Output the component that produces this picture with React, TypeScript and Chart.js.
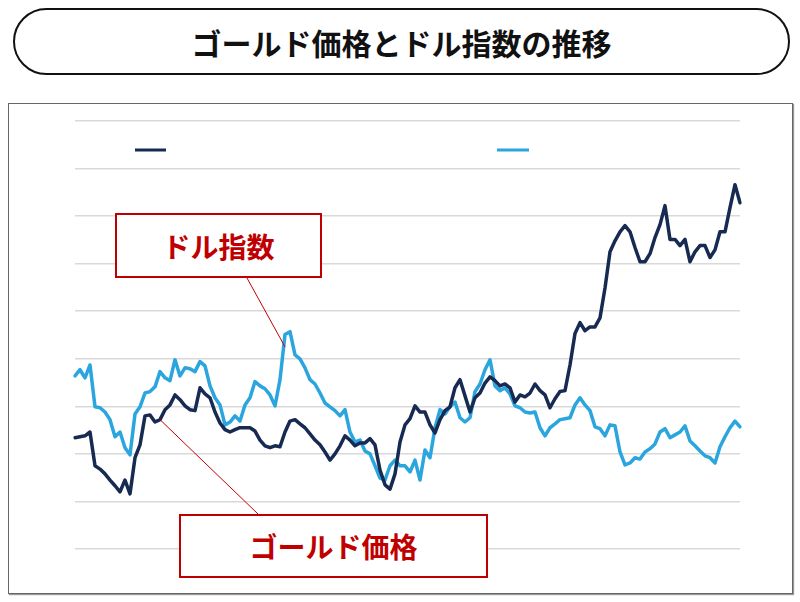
import React, { useEffect, useRef } from "react";
import { Chart, registerables } from "chart.js";

Chart.register(...registerables);

// Weekly observations (index units; each gridline = 10)
const goldPrice: number[] = [
  23.4, 23.6, 23.8, 24.6, 17.5, 16.8, 15.8, 14.5, 13.3, 12.0,
  14.5, 11.6, 19.2, 21.9, 28.0, 28.2, 26.7, 27.2, 29.3, 30.3,
  32.4, 31.4, 30.1, 29.3, 29.1, 33.9, 32.6, 31.8, 28.8, 26.5,
  25.1, 24.6, 25.1, 25.5, 25.5, 25.5, 24.8, 22.9, 21.7, 21.3,
  21.7, 21.5, 24.6, 26.9, 27.2, 26.3, 25.5, 24.2, 22.9, 21.9,
  20.4, 18.7, 20.0, 21.7, 23.8, 22.9, 21.7, 22.3, 22.3, 23.2,
  21.9, 16.6, 13.5, 12.6, 15.8, 22.5, 26.1, 27.4, 30.1, 28.8,
  28.8, 26.1, 24.4, 27.2, 29.1, 29.9, 33.9, 35.6, 32.2, 28.8,
  31.8, 32.8, 34.9, 36.2, 35.4, 34.3, 34.7, 33.9, 30.9, 32.4,
  32.0, 32.8, 34.7, 33.3, 32.4, 29.7, 31.6, 33.1, 33.3, 38.7,
  45.3, 47.6, 45.9, 46.7, 46.7, 48.6, 54.9, 62.5, 64.8, 66.7,
  68.0, 66.7, 63.4, 60.4, 60.4, 62.1, 65.5, 68.2, 72.2, 65.1,
  65.1, 63.8, 65.1, 60.4, 62.5, 63.8, 63.8, 61.3, 62.9, 66.7,
  66.7, 71.8, 76.6, 72.8,
];

const dollarIndex: number[] = [
  36.4, 37.7, 36.0, 38.7, 29.9, 29.7, 28.8, 27.2, 23.6, 24.6,
  21.3, 19.8, 28.4, 29.9, 32.8, 33.1, 34.1, 37.3, 36.0, 35.4,
  39.8, 36.4, 38.1, 37.9, 37.3, 39.4, 38.5, 34.3, 31.8, 30.3,
  26.1, 26.7, 28.0, 26.9, 30.3, 31.8, 35.2, 34.3, 33.7, 32.4,
  30.1, 35.6, 45.1, 45.7, 40.8, 40.0, 38.1, 35.6, 34.7, 32.8,
  30.7, 29.9, 29.1, 28.0, 29.3, 24.6, 22.5, 22.9, 20.6, 20.0,
  17.5, 14.9, 14.5, 17.5, 18.7, 17.5, 17.5, 16.2, 18.7, 14.5,
  20.8, 19.2, 25.5, 29.3, 28.4, 29.9, 30.9, 27.6, 26.7, 27.6,
  33.1, 34.7, 37.7, 39.8, 34.3, 33.3, 33.9, 32.6, 30.1, 29.7,
  28.8, 28.6, 28.8, 25.5, 23.8, 25.5, 26.3, 27.2, 27.4, 27.6,
  30.3, 31.8, 30.3, 29.1, 25.7, 25.3, 23.8, 26.1, 25.9, 20.4,
  17.7, 18.1, 19.2, 18.9, 20.4, 21.1, 22.1, 24.6, 25.3, 23.4,
  24.0, 24.6, 25.9, 22.7, 21.7, 20.6, 19.6, 19.2, 18.1, 21.5,
  23.6, 25.5, 26.9, 25.7,
];

const weekLabels: string[] = goldPrice.map((_, i) => `W${i + 1}`);

const yMin = 0;
const yMax = 90;
const yStep = 10;

// Annotation anchor points (week index, value)
const dollarCallout = { index: 42, value: 42.5 };
const goldCallout = { index: 17, value: 27.2 };

const titleText = "ゴールド価格とドル指数の推移";
const dollarLabel = "ドル指数";
const goldLabel = "ゴールド価格";

const GOLD_COLOR = "#172a52";
const DOLLAR_COLOR = "#2aa5de";
const RED = "#c00000";
const JP_FONT = '"Noto Sans CJK JP", "Noto Sans", sans-serif';

export default function App() {
  const canvasRef = useRef<HTMLCanvasElement | null>(null);

  useEffect(() => {
    if (!canvasRef.current) return;

    const decor = {
      id: "decor",
      afterDatasetsDraw(chart: any) {
        const ctx = chart.ctx as CanvasRenderingContext2D;
        const xs = chart.scales.x;
        const ys = chart.scales.y;
        ctx.save();
        // legend swatches
        ctx.lineWidth = 3;
        ctx.lineCap = "butt";
        ctx.strokeStyle = GOLD_COLOR;
        ctx.beginPath();
        ctx.moveTo(135, 150);
        ctx.lineTo(166, 150);
        ctx.stroke();
        ctx.strokeStyle = DOLLAR_COLOR;
        ctx.beginPath();
        ctx.moveTo(497, 150);
        ctx.lineTo(529, 150);
        ctx.stroke();
        // callout connectors
        ctx.strokeStyle = RED;
        ctx.lineWidth = 1;
        ctx.beginPath();
        ctx.moveTo(247, 278);
        ctx.lineTo(
          xs.getPixelForValue(dollarCallout.index),
          ys.getPixelForValue(dollarCallout.value)
        );
        ctx.stroke();
        ctx.beginPath();
        ctx.moveTo(258, 514);
        ctx.lineTo(
          xs.getPixelForValue(goldCallout.index),
          ys.getPixelForValue(goldCallout.value)
        );
        ctx.stroke();
        ctx.restore();
      },
    };

    const chart = new Chart(canvasRef.current, {
      type: "line",
      data: {
        labels: weekLabels,
        datasets: [
          {
            label: "ゴールド価格",
            data: goldPrice,
            borderColor: GOLD_COLOR,
            borderWidth: 3.5,
            borderJoinStyle: "round",
            borderCapStyle: "round",
            pointRadius: 0,
            tension: 0,
            fill: false,
          },
          {
            label: "ドル指数",
            data: dollarIndex,
            borderColor: DOLLAR_COLOR,
            borderWidth: 3.5,
            borderJoinStyle: "round",
            borderCapStyle: "round",
            pointRadius: 0,
            tension: 0,
            fill: false,
          },
        ],
      },
      options: {
        animation: false,
        responsive: false,
        devicePixelRatio: 1,
        layout: { padding: { left: 75, right: 60, top: 121, bottom: 53 } },
        plugins: {
          legend: { display: false },
          tooltip: { enabled: false },
          title: { display: false },
        },
        scales: {
          x: {
            display: false,
            offset: false,
          },
          y: {
            min: yMin,
            max: yMax,
            ticks: { display: false, stepSize: yStep },
            border: { display: false },
            grid: { color: "#d9d9d9", lineWidth: 1.5, drawTicks: false },
          },
        },
      },
      plugins: [decor],
    });

    return () => chart.destroy();
  }, []);

  return (
    <div
      style={{
        position: "fixed",
        left: 0,
        top: 0,
        width: 800,
        height: 602,
        background: "#fff",
        fontFamily: JP_FONT,
      }}
    >
      <div
        style={{
          position: "absolute",
          left: 13,
          top: 8,
          width: 773,
          height: 63,
          border: "2px solid #111",
          borderRadius: 34,
          display: "flex",
          alignItems: "center",
          justifyContent: "center",
          fontSize: 30,
          fontWeight: 700,
          color: "#111",
        }}
      >
        {titleText}
      </div>
      <div
        style={{
          position: "absolute",
          left: 8,
          top: 103,
          width: 783,
          height: 489,
          border: "1.5px solid #666",
          boxShadow: "1px 1px 1px #999",
        }}
      />
      <canvas
        ref={canvasRef}
        width={800}
        height={602}
        style={{ position: "absolute", left: 0, top: 0, width: 800, height: 602 }}
      />
      <div
        style={{
          position: "absolute",
          left: 115,
          top: 213,
          width: 203,
          height: 61,
          border: "2px solid " + RED,
          background: "#fff",
          display: "flex",
          alignItems: "center",
          justifyContent: "center",
          fontSize: 28,
          fontWeight: 700,
          color: RED,
        }}
      >
        {dollarLabel}
      </div>
      <div
        style={{
          position: "absolute",
          left: 179,
          top: 514,
          width: 305,
          height: 60,
          border: "2px solid " + RED,
          background: "#fff",
          display: "flex",
          alignItems: "center",
          justifyContent: "center",
          fontSize: 28,
          fontWeight: 700,
          color: RED,
        }}
      >
        {goldLabel}
      </div>
    </div>
  );
}
